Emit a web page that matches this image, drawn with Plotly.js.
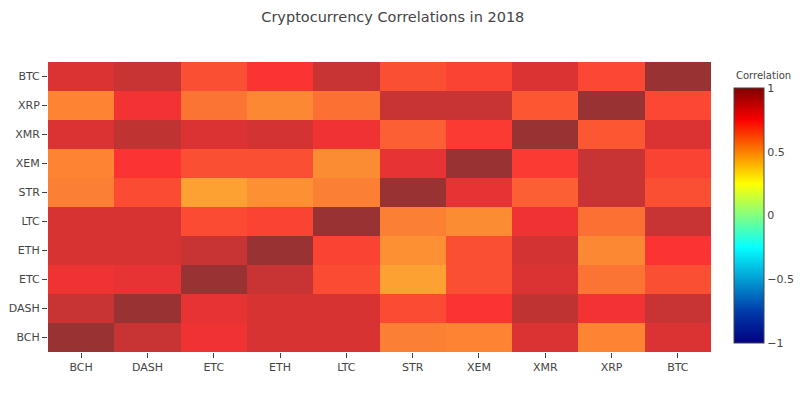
<!DOCTYPE html>
<html>
<head>
<meta charset="utf-8">
<script src="https://cdn.plot.ly/plotly-3.0.1.min.js"></script>
<style>html,body{margin:0;padding:0;background:#fff;}#chart{width:800px;height:396px;}</style>
</head>
<body>
<div id="chart"></div>
<script>
var coins = ["BCH", "DASH", "ETC", "ETH", "LTC", "STR", "XEM", "XMR", "XRP", "BTC"];
// rows follow coins order (bottom to top), columns follow coins order
var rowBCH  = [1.00, 0.88, 0.78, 0.84, 0.84, 0.56, 0.55, 0.83, 0.55, 0.83];
var rowDASH = [0.88, 1.00, 0.80, 0.84, 0.84, 0.69, 0.75, 0.90, 0.77, 0.88];
var rowETC  = [0.78, 0.80, 1.00, 0.88, 0.69, 0.48, 0.68, 0.83, 0.59, 0.68];
var rowETH  = [0.84, 0.84, 0.88, 1.00, 0.71, 0.52, 0.68, 0.85, 0.54, 0.75];
var rowLTC  = [0.84, 0.84, 0.69, 0.71, 1.00, 0.56, 0.53, 0.78, 0.60, 0.88];
var rowSTR  = [0.56, 0.69, 0.48, 0.52, 0.56, 1.00, 0.80, 0.64, 0.88, 0.68];
var rowXEM  = [0.55, 0.75, 0.68, 0.68, 0.53, 0.80, 1.00, 0.73, 0.88, 0.71];
var rowXMR  = [0.83, 0.90, 0.83, 0.85, 0.78, 0.64, 0.73, 1.00, 0.66, 0.83];
var rowXRP  = [0.55, 0.77, 0.59, 0.54, 0.60, 0.88, 0.88, 0.66, 1.00, 0.70];
var rowBTC  = [0.83, 0.88, 0.68, 0.75, 0.88, 0.68, 0.71, 0.83, 0.70, 1.00];

var z = [rowBCH, rowDASH, rowETC, rowETH, rowLTC, rowSTR, rowXEM, rowXMR, rowXRP, rowBTC];

var trace = {
  type: "heatmap",
  x: coins,
  y: coins,
  z: z,
  zmin: -1,
  zmax: 1,
  colorscale: "Jet",
  opacity: 0.8,
  colorbar: {
    lenmode: "pixels",
    len: 275,
    y: 0.4707,
    yanchor: "middle",
    tickvals: [-1, -0.5, 0, 0.5, 1],
    ticktext: ["\u22121", "\u22120.5", "0", "0.5", "1"],
    tickfont: {size: 11}
  }
};

var layout = {
  title: {text: "Cryptocurrency Correlations in 2018", font: {size: 14.5, color: "#444"},
          x: 0.491, xanchor: "center", y: 0.957, yanchor: "middle"},
  width: 800,
  height: 396,
  margin: {l: 48, r: 89, t: 62, b: 44, autoexpand: false},
  paper_bgcolor: "#fff",
  plot_bgcolor: "#fff",
  font: {family: "DejaVu Sans, Verdana, sans-serif", size: 11, color: "#444"},
  xaxis: {ticks: "outside", ticklen: 5, tickcolor: "#444", showgrid: false, zeroline: false},
  yaxis: {ticks: "outside", ticklen: 5, tickcolor: "#444", showgrid: false, zeroline: false},
  annotations: [{
    text: "Correlation", xref: "paper", yref: "paper",
    x: 1.0347, xanchor: "left", y: 0.955, yanchor: "middle",
    showarrow: false, font: {size: 10, color: "#444"}
  }]
};

Plotly.newPlot("chart", [trace], layout, {displayModeBar: false});
</script>
</body>
</html>
